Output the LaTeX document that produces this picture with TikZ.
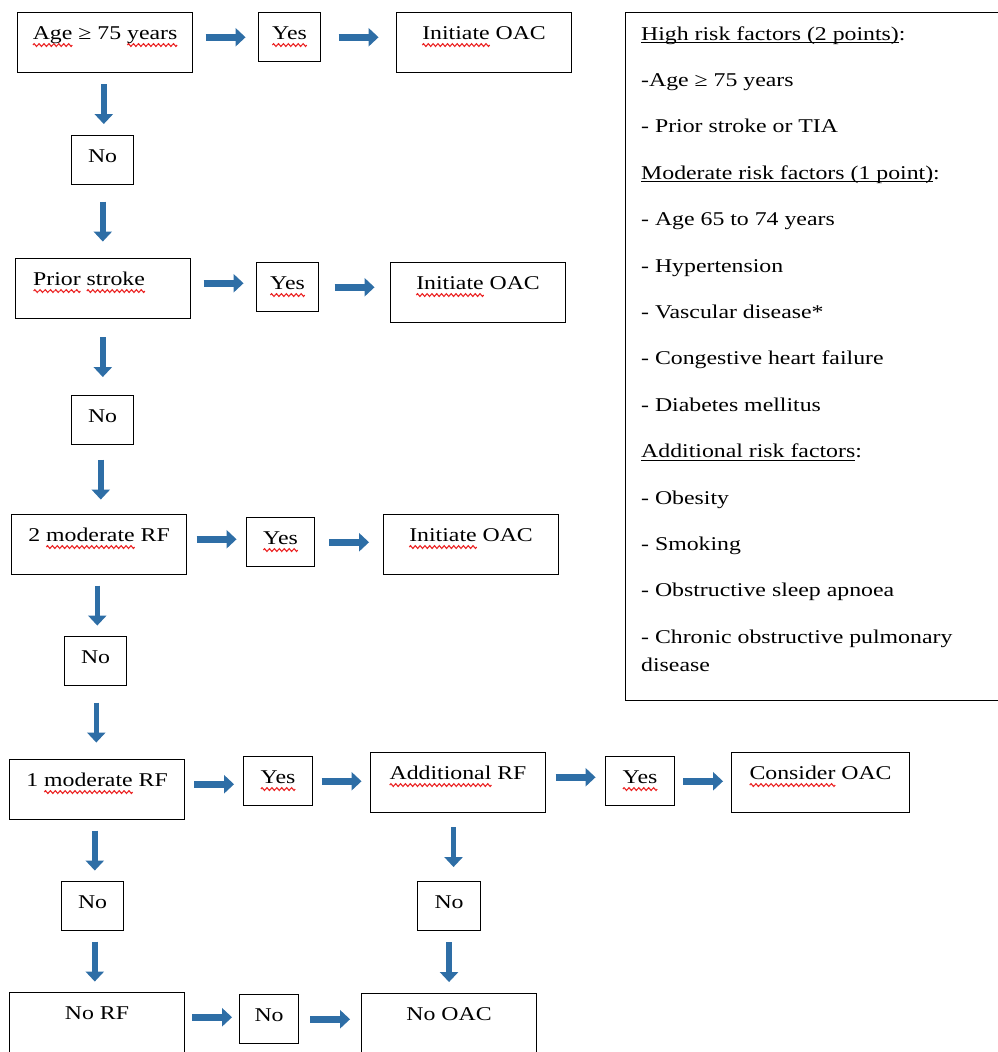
\documentclass[tikz,border=0pt]{standalone}
\usepackage{fontspec}
\setmainfont{Liberation Serif}[FakeStretch=1.22]
\usetikzlibrary{arrows.meta,calc}

\definecolor{arrowblue}{RGB}{46,110,166}
\definecolor{squiggle}{RGB}{235,35,35}

% red wavy underline of the spell checker, and plain underline
\newsavebox\wavebox
\newsavebox\wordbox
\newcommand\squig[1]{\sbox\wordbox{#1}%
  \rlap{\raisebox{-5.5pt}{\hbox to \wd\wordbox{\xleaders\copy\wavebox\hfil}}}\usebox\wordbox}
\newcommand\ulin[1]{\sbox\wordbox{#1}%
  \rlap{\rule[-3pt]{\wd\wordbox}{0.8pt}}\usebox\wordbox}

\tikzset{
  box/.style={draw, line width=1.1pt, anchor=north west, inner xsep=3pt, inner ysep=0pt,
    text height=27pt, font=\fontsize{19.5pt}{23pt}\selectfont},
  bigbox/.style={box, minimum width=175pt, text depth=33pt},
  smallbox/.style={box, minimum width=62pt, text depth=22pt},
  flow/.style={draw=arrowblue, line width=6.5pt, -{Triangle[length=10pt,width=18pt]}},
  legendline/.style={anchor=base west, inner sep=0pt, font=\fontsize{19.5pt}{23pt}\selectfont}
}

\begin{document}
\sbox\wavebox{\begin{pgfpicture}
  \pgfsetlinewidth{1.1pt}\pgfsetstrokecolor{squiggle}
  \pgfpathmoveto{\pgfpoint{0pt}{0pt}}
  \pgfpathsine{\pgfpoint{1.2pt}{1.4pt}}\pgfpathcosine{\pgfpoint{1.2pt}{-1.4pt}}
  \pgfpathsine{\pgfpoint{1.2pt}{-1.4pt}}\pgfpathcosine{\pgfpoint{1.2pt}{1.4pt}}
  \pgfusepath{stroke}
  \pgfresetboundingbox
  \pgfpathrectanglecorners{\pgfpoint{0pt}{-1pt}}{\pgfpoint{4.8pt}{1pt}}
  \pgfusepath{use as bounding box}
  \pgfsetbaseline{0pt}
\end{pgfpicture}}
\begin{tikzpicture}[x=1pt,y=-1pt]
\useasboundingbox (0,0) rectangle (998,1052);

% row 1
\node[bigbox] (age) at (17,12) {\squig{Age} ≥ 75 \squig{years}};
\node[smallbox] (yes1) at (258,12) {\squig{Yes}};
\node[bigbox] (oac1) at (396,12) {\squig{Initiate} OAC};
\node[smallbox] (no1) at (71,135) {No};

% row 2
\node[bigbox] (prior) at (15,258) {\squig{Prior} \squig{stroke}\rule{28pt}{0pt}};
\node[smallbox] (yes2) at (256,262) {\squig{Yes}};
\node[bigbox] (oac2) at (390,262) {\squig{Initiate} OAC};
\node[smallbox] (no2) at (71,395) {No};

% row 3
\node[bigbox] (mod2) at (11,514) {2 \squig{moderate} RF};
\node[smallbox, minimum width=68pt] (yes3) at (246,517) {\squig{Yes}};
\node[bigbox] (oac3) at (383,514) {\squig{Initiate} OAC};
\node[smallbox] (no3) at (64,636) {No};

% row 4
\node[bigbox] (mod1) at (9,759) {1 \squig{moderate} RF};
\node[smallbox, minimum width=69pt] (yes4) at (243,756) {\squig{Yes}};
\node[bigbox] (addrf) at (370,752) {\squig{Additional} RF};
\node[smallbox, minimum width=69pt] (yes5) at (605,756) {\squig{Yes}};
\node[bigbox, minimum width=178pt] (consider) at (731,752) {\squig{Consider} OAC};
\node[smallbox] (no4) at (61,881) {No};
\node[smallbox, minimum width=63pt] (no5) at (417,881) {No};

% row 5
\node[bigbox, text depth=45pt] (norf) at (9,992) {No RF};
\node[smallbox, minimum width=59pt] (no6) at (239,994) {No};
\node[bigbox, text depth=45pt] (nooac) at (361,993) {No OAC};

% arrows
\foreach \a/\b in {age/yes1, yes1/oac1, prior/yes2, yes2/oac2, mod2/yes3, yes3/oac3,
    mod1/yes4, yes4/addrf, addrf/yes5, yes5/consider, norf/no6, no6/nooac}{
  \coordinate (m) at ($(\a.mid east)!0.5!(\a.mid east -| \b.west)$);
  \draw[flow] ([xshift=-20pt]m) -- ([xshift=20pt]m);
}
\foreach \a/\b in {age/no1, no1/prior, prior/no2, no2/mod2, mod2/no3, no3/mod1,
    mod1/no4, no4/norf, addrf/no5, no5/nooac}{
  \coordinate (m) at ($(\a.south)!0.5!(\b.north)$);
  \draw[flow, line width=5.5pt] ([yshift=20pt]m) -- ([yshift=-20pt]m);
}

% risk factor list
\node[draw, line width=1.1pt, anchor=north west, inner sep=0pt,
  minimum width=390pt, minimum height=688pt] (legend) at (625,12) {};
\foreach \entry [count=\i from 0] in {{\ulin{High risk factors (2 points)}:},
    -Age ≥ 75 years, - Prior stroke or TIA, {\ulin{Moderate risk factors (1 point)}:},
    - Age 65 to 74 years, - Hypertension, - Vascular disease*,
    - Congestive heart failure, - Diabetes mellitus, {\ulin{Additional risk factors}:},
    - Obesity, - Smoking, - Obstructive sleep apnoea, - Chronic obstructive pulmonary}
  \node[legendline] (leg\i) at (641, 40+46.4*\i) {\entry};
\node[legendline] (leg14) at (641,671) {disease};
\end{tikzpicture}
\end{document}
